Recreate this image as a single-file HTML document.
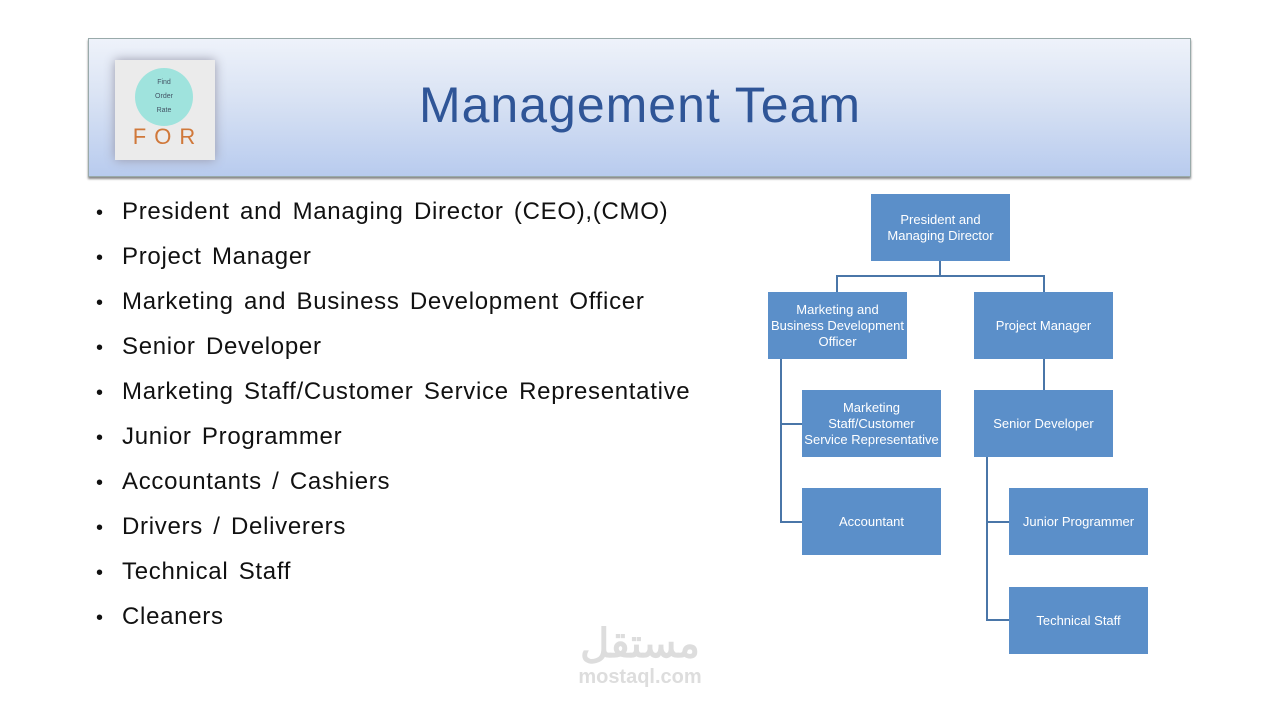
<!DOCTYPE html>
<html><head><meta charset="utf-8"><style>
body{margin:0;width:1280px;height:720px;background:#fff;position:relative;overflow:hidden;font-family:"Liberation Sans",sans-serif}
.hdr{position:absolute;left:88px;top:38px;width:1101px;height:137px;background:linear-gradient(#eef2fa,#dbe4f4 40%,#b8cbee);border:1px solid #9aa;box-shadow:0 2px 2px #888}
.title{position:absolute;left:0;width:1280px;top:76px;text-align:center;font-size:50px;color:#2f5597;letter-spacing:1px}
.logo{position:absolute;left:115px;top:60px;width:100px;height:100px;background:#ebebeb;box-shadow:0 0 10px #99a}
.circ{position:absolute;left:20px;top:8px;width:58px;height:58px;border-radius:50%;background:#9fe3dd;font-size:7px;color:#456;text-align:center;line-height:14px;padding-top:8px;box-sizing:border-box}
.for{position:absolute;left:0;width:100px;top:64px;text-align:center;font-size:22px;color:#d0783a;letter-spacing:8px;padding-left:6px;box-sizing:border-box}
ul{position:absolute;left:96px;top:194px;margin:0;padding:0;list-style:none}
li{font-size:24px;height:45px;line-height:36px;color:#111;letter-spacing:0.7px;word-spacing:3px}
li:before{content:"•";display:inline-block;width:26px;font-size:20px;letter-spacing:0}
.b{position:absolute;background:#5b8fc9;color:#fff;font-size:13px;display:flex;align-items:center;justify-content:center;text-align:center;width:139px;height:67px;line-height:16px}
.l{position:absolute;background:#4a76a8}
.wm{position:absolute;left:540px;top:622px;width:200px;text-align:center;color:#ddd;font-weight:bold}
</style></head><body>
<div class="hdr"></div>
<div class="title">Management Team</div>
<div class="logo"><div class="circ">Find<br>Order<br>Rate</div><div class="for">FOR</div></div>
<ul>
<li>President and Managing Director (CEO),(CMO)</li>
<li>Project Manager</li>
<li>Marketing and Business Development Officer</li>
<li>Senior Developer</li>
<li>Marketing Staff/Customer Service Representative</li>
<li>Junior Programmer</li>
<li>Accountants / Cashiers</li>
<li>Drivers / Deliverers</li>
<li>Technical Staff</li>
<li>Cleaners</li>
</ul>
<div class="l" style="left:939px;top:261px;width:2px;height:15px"></div>
<div class="l" style="left:836px;top:275px;width:209px;height:2px"></div>
<div class="l" style="left:836px;top:275px;width:2px;height:17px"></div>
<div class="l" style="left:1043px;top:275px;width:2px;height:17px"></div>
<div class="l" style="left:780px;top:359px;width:2px;height:164px"></div>
<div class="l" style="left:780px;top:423px;width:22px;height:2px"></div>
<div class="l" style="left:780px;top:521px;width:22px;height:2px"></div>
<div class="l" style="left:1043px;top:359px;width:2px;height:31px"></div>
<div class="l" style="left:986px;top:457px;width:2px;height:164px"></div>
<div class="l" style="left:986px;top:521px;width:23px;height:2px"></div>
<div class="l" style="left:986px;top:619px;width:23px;height:2px"></div>
<div class="b" style="left:871px;top:194px">President and<br>Managing Director</div>
<div class="b" style="left:768px;top:292px">Marketing and<br>Business Development<br>Officer</div>
<div class="b" style="left:974px;top:292px">Project Manager</div>
<div class="b" style="left:802px;top:390px">Marketing<br>Staff/Customer<br>Service Representative</div>
<div class="b" style="left:974px;top:390px">Senior Developer</div>
<div class="b" style="left:802px;top:488px">Accountant</div>
<div class="b" style="left:1009px;top:488px">Junior Programmer</div>
<div class="b" style="left:1009px;top:587px">Technical Staff</div>
<div class="wm"><div style="font-size:40px;line-height:44px">مستقل</div><div style="font-size:20px">mostaql.com</div></div>
</body></html>
